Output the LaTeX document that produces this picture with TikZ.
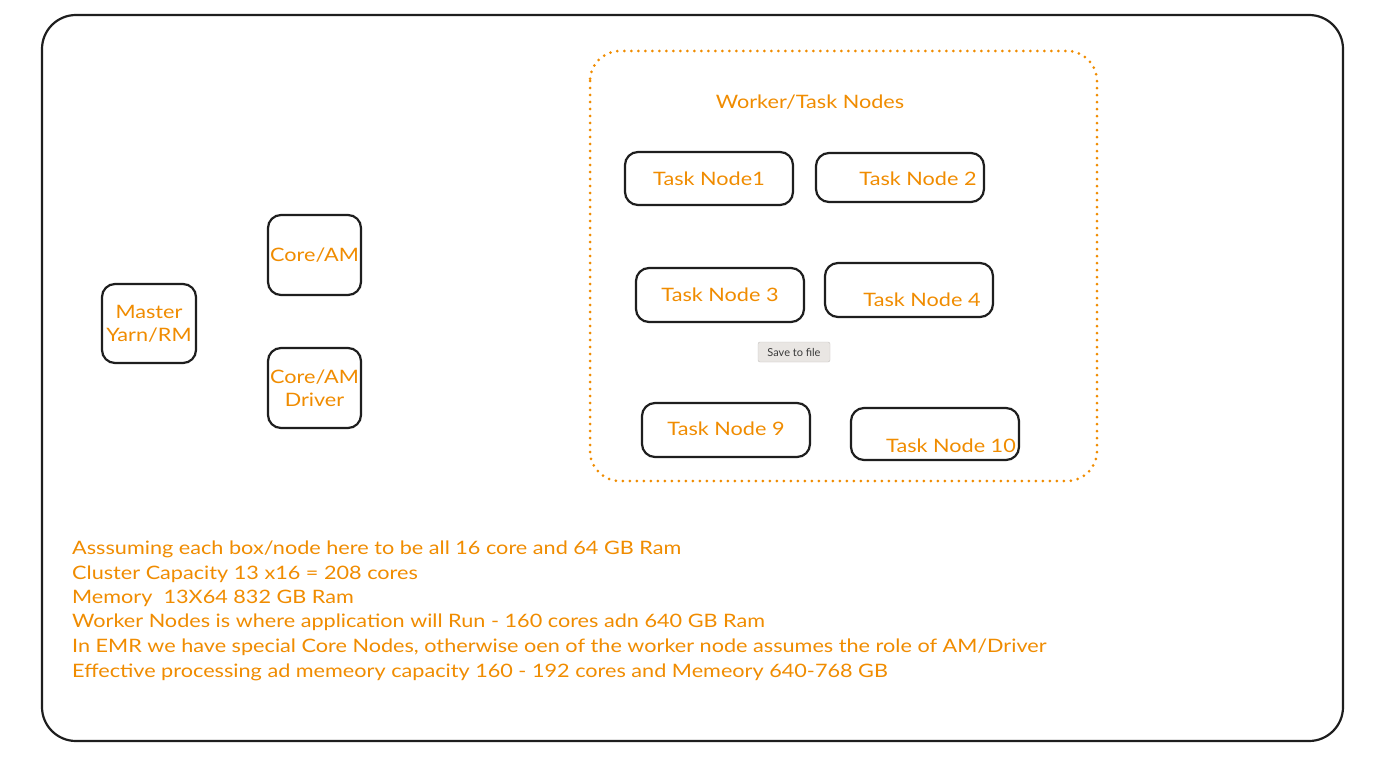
\documentclass[tikz,border=0pt]{standalone}
\usepackage{fontspec}
\setmainfont[FakeStretch=1.17]{Lato}
\definecolor{exorange}{HTML}{F08C00}
\definecolor{exink}{HTML}{1E1E1E}
\definecolor{btnfill}{HTML}{E9E6E3}
\definecolor{btntext}{HTML}{3A3A3A}
\newfontfamily\btnfont{Lato}
\begin{document}
\begin{tikzpicture}[x=1pt,y=-1pt,
  frame/.style={draw=exink,line width=2.2pt,rounded corners=34pt},
  group/.style={draw=exorange,line width=3pt,line cap=round,dash pattern=on 0pt off 7pt,rounded corners=30pt},
  nodebox/.style={draw=exink,line width=2.2pt,rounded corners=13pt,inner sep=0pt,font=\fontsize{18.5}{21}\selectfont\color{exorange},align=center},
  lbl/.style={font=\fontsize{18.5}{21}\selectfont,text=exorange,inner sep=0pt},
  note/.style={font=\fontsize{18.5}{24.5}\selectfont,text=exorange,inner sep=0pt,anchor=west},
  btn/.style={fill=btnfill,draw=btnfill!85!black,line width=0.4pt,rounded corners=2pt,font=\btnfont\fontsize{11}{13}\selectfont,text=btntext,minimum width=72pt,minimum height=20pt,inner sep=0pt}]
\useasboundingbox (0,0) rectangle (1381,757);
\fill[white] (0,0) rectangle (1381,757);
\draw[frame] (42,15) rectangle (1343,741);
\draw[group] (590,51) rectangle (1097,481);
% left column
\node[nodebox,minimum width=94pt,minimum height=79pt] (master) at (149,323.5) {Master\\[2pt]Yarn/RM};
\node[nodebox,minimum width=93pt,minimum height=80pt] (core1) at (314.5,255) {Core/AM};
\node[nodebox,minimum width=93pt,minimum height=80pt] (core2) at (314.5,388) {Core/AM\\[2pt]Driver};
% worker group
\node[lbl] (wlabel) at (810,102) {Worker/Task Nodes};
\node[nodebox,minimum width=168pt,minimum height=53pt] (t1) at (709,178.5) {};
\node[lbl] (t1t) at (709,179) {Task Node1};
\node[nodebox,minimum width=168pt,minimum height=49pt] (t2) at (900,177.5) {};
\node[lbl] (t2t) at (918,179) {Task Node 2};
\node[nodebox,minimum width=168pt,minimum height=54pt] (t3) at (720,295) {};
\node[lbl] (t3t) at (720,295) {Task Node 3};
\node[nodebox,minimum width=168pt,minimum height=54pt] (t4) at (909,290) {};
\node[lbl] (t4t) at (922,300) {Task Node 4};
\node[btn] (save) at (794,352) {Save to file};
\node[nodebox,minimum width=168pt,minimum height=54pt] (t9) at (726,430) {};
\node[lbl] (t9t) at (726,429) {Task Node 9};
\node[nodebox,minimum width=168pt,minimum height=52pt] (t10) at (935,434) {};
\node[lbl] (t10t) at (951,446) {Task Node 10};
% notes
\node[note] (n1) at (72,549) {Asssuming each box/node here to be all 16 core and 64 GB Ram};
\node[note] (n2) at (72,574) {Cluster Capacity 13 x16 = 208 cores};
\node[note] (n3) at (72,598) {Memory\ \ 13X64 832 GB Ram};
\node[note] (n4) at (72,622) {Worker Nodes is where application will Run - 160 cores adn 640 GB Ram};
\node[note] (n5) at (72,647) {In EMR we have special Core Nodes, otherwise oen of the worker node assumes the role of AM/Driver};
\node[note] (n6) at (72,672) {Effective processing ad memeory capacity 160 - 192 cores and Memeory 640-768 GB};
\end{tikzpicture}
\end{document}
